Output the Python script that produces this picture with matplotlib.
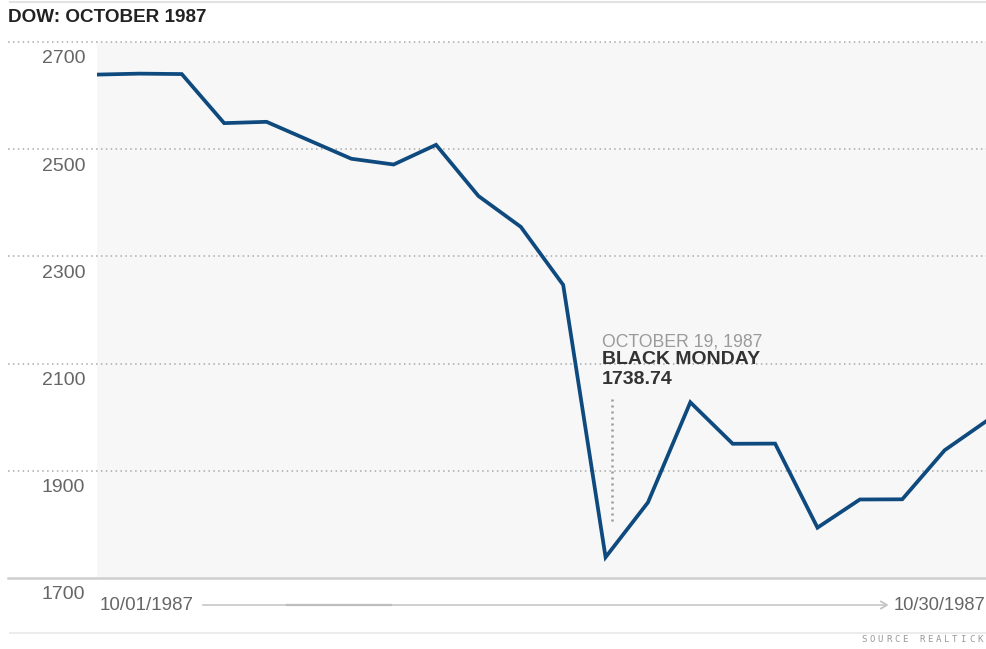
import matplotlib
matplotlib.use("Agg")
import matplotlib.pyplot as plt
from matplotlib.lines import Line2D
from matplotlib.transforms import ScaledTranslation

# ---- data ----
dates = ["10/01/1987", "10/02/1987", "10/05/1987", "10/06/1987", "10/07/1987",
         "10/08/1987", "10/09/1987", "10/12/1987", "10/13/1987", "10/14/1987",
         "10/15/1987", "10/16/1987", "10/19/1987", "10/20/1987", "10/21/1987",
         "10/22/1987", "10/23/1987", "10/26/1987", "10/27/1987", "10/28/1987",
         "10/29/1987", "10/30/1987"]
dow_close = [2639.20, 2640.99, 2640.18, 2548.63, 2551.08, 2516.64, 2482.21,
             2471.44, 2508.16, 2412.70, 2355.09, 2246.74, 1738.74, 1841.01,
             2027.85, 1950.43, 1950.76, 1793.93, 1846.49, 1846.82, 1938.33,
             1993.53]
y_ticks = [1700, 1900, 2100, 2300, 2500, 2700]
title = "DOW: OCTOBER 1987"
annot_date = "OCTOBER 19, 1987"
annot_name = "BLACK MONDAY"
source = "SOURCE REALTICK"

W, H = 987, 649
fig = plt.figure(figsize=(W / 100, H / 100), dpi=100)
plt.rcParams['font.family'] = ['Liberation Sans', 'DejaVu Sans']

def fx(px):
    return px / W

def fy(py):
    return 1 - py / H

ax = fig.add_axes([fx(97), fy(578), fx(987) - fx(97), fy(42) - fy(578)])
ax.set_facecolor('#f7f7f7')
for s in ax.spines.values():
    s.set_visible(False)

x = list(range(len(dates)))
ax.plot(x, dow_close, color='#0e4a7e', lw=2.7, solid_joinstyle='miter', zorder=5)
ax.set_xlim(0, len(dates) - 1)
ax.set_ylim(y_ticks[0], y_ticks[-1])
ax.set_xticks([])

# grid lines extending left beyond axes
for v in y_ticks[1:]:
    ax.axhline(v, xmin=-0.1, xmax=1, color='#aaaaaa', lw=1.1,
               ls=(0, (1, 2.2)), clip_on=False, zorder=1)
ax.axhline(y_ticks[0], xmin=-0.1, xmax=1, color='#cfcfcf', lw=1.8,
           clip_on=False, zorder=6)

ax.set_yticks(y_ticks)
ax.set_yticklabels([str(v) for v in y_ticks], fontsize=14, color='#666666')
ax.tick_params(axis='y', length=0, pad=8.5)
off = ScaledTranslation(0, -15 / 100, fig.dpi_scale_trans)
for lab in ax.get_yticklabels():
    lab.set_transform(lab.get_transform() + off)

# title
fig.text(fx(8), fy(18), title, fontsize=13.6, fontweight='bold', color='#222222',
         va='center', ha='left')

# top and bottom thin lines
fig.add_artist(Line2D([fx(10), 1], [fy(1.5), fy(1.5)], color='#e2e2e2', lw=1.5))
fig.add_artist(Line2D([fx(10), 1], [fy(633), fy(633)], color='#ececec', lw=1.5))

# date range labels with arrow
fig.text(fx(100), fy(605), dates[0], fontsize=13.5, color='#666666',
         va='center', ha='left')
fig.text(fx(985), fy(605), dates[-1], fontsize=13.2, color='#666666',
         va='center', ha='right')
fig.add_artist(Line2D([fx(203), fx(884)], [fy(605), fy(605)], color='#cccccc', lw=1.3))
fig.add_artist(Line2D([fx(287), fx(391)], [fy(605), fy(605)], color='#bdbdbd', lw=1.6))
fig.add_artist(Line2D([fx(881), fx(887), fx(881)], [fy(601.5), fy(605), fy(608.5)],
                      color='#c4c4c4', lw=1.3))

# annotation
i_min = dow_close.index(min(dow_close))
ax.plot([i_min + 0.15, i_min + 0.15], [1807, 2036], color='#999999', lw=1.8,
        ls=(0, (0.8, 1.6)), zorder=4)
ax.text(i_min - 0.08, 2141, annot_date, fontsize=12.7, color='#9a9a9a',
        va='center', ha='left', zorder=7)
ax.text(i_min - 0.08, 2107, annot_name, fontsize=14, color='#333333',
        fontweight='bold', va='center', ha='left', zorder=7)
ax.text(i_min - 0.08, 2070, f"{min(dow_close):.2f}", fontsize=14, color='#333333',
        fontweight='bold', va='center', ha='left', zorder=7)

# source (spaced small letters)
for k, ch in enumerate(source):
    fig.text(fx(861 + k * 8.3), fy(640), ch, fontsize=6.6, color='#999999',
             va='center', ha='left', family='DejaVu Sans Mono')

fig.savefig('out.png', dpi=100)
